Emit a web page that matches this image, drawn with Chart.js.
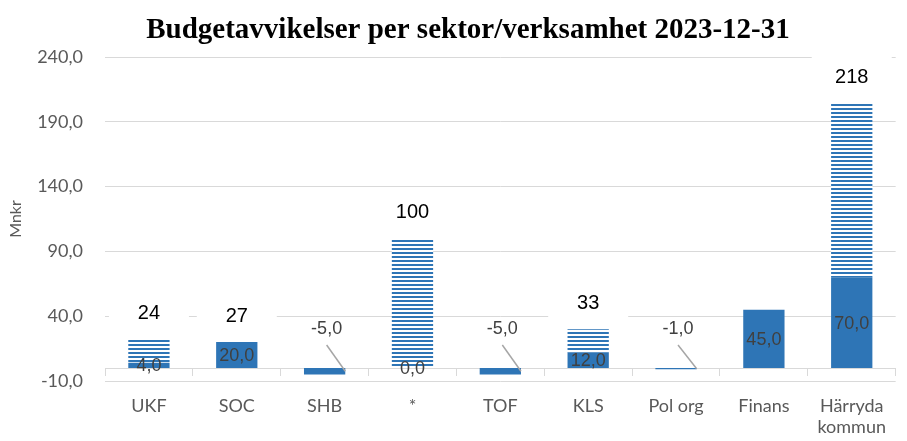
<!DOCTYPE html>
<html>
<head>
<meta charset="utf-8">
<script src="https://cdn.jsdelivr.net/npm/chart.js@4.4.0/dist/chart.umd.min.js"></script>
<style>
  html, body { margin: 0; padding: 0; background: #fff; }
  #wrap { width: 907px; height: 441px; }
</style>
</head>
<body>
<div id="wrap"><canvas id="budgetChart" width="907" height="441"></canvas></div>
<script>
const chartTitle = 'Budgetavvikelser per sektor/verksamhet 2023-12-31';
const categories = ['UKF', 'SOC', 'SHB', '*', 'TOF', 'KLS', 'Pol org', 'Finans', ['Härryda', 'kommun']];
// solid part of each bar, and the striped part stacked on top of it
const solidValues = [4, 20, -5, 0, -5, 12, -1, 45, 70];
const stripedValues = [18, 0, 0, 100, 0, 18, 0, 0, 134];
// totals written above the bars
const totalLabels = [24, 27, null, 100, null, 33, null, null, 218];
const yMin = -10, yMax = 240, yStep = 50;

const blue = '#2e75b6';

function fmt(v) {
    return v.toFixed(1).replace('.', ',');
}

function makeStripes() {
    const c = document.createElement('canvas');
    c.width = 4;
    c.height = 4;
    const p = c.getContext('2d');
    p.fillStyle = '#fff';
    p.fillRect(0, 0, 4, 4);
    p.fillStyle = blue;
    p.fillRect(0, 0, 4, 2);
    return p.createPattern(c, 'repeat');
}

const labelPlugin = {
    id: 'barLabels',
    afterDatasetsDraw(chart) {
        const ctx = chart.ctx;
        const solid = chart.getDatasetMeta(0).data;
        const striped = chart.getDatasetMeta(1).data;
        ctx.save();
        ctx.textAlign = 'center';
        ctx.textBaseline = 'middle';
        for (let i = 0; i < solidValues.length; i++) {
            const bar = solid[i];
            const v = solidValues[i];
            ctx.font = '18px "Liberation Sans", Arial, sans-serif';
            ctx.fillStyle = '#404040';
            if (v < 0) {
                // negative values get their label lifted up with a leader line
                const lx = bar.x + 2, ly = bar.base - 39;
                ctx.strokeStyle = '#a6a6a6';
                ctx.lineWidth = 1.5;
                ctx.beginPath();
                ctx.moveTo(lx, ly + 16);
                ctx.lineTo(bar.x + bar.width / 2, (bar.y + bar.base) / 2);
                ctx.stroke();
                ctx.fillText(fmt(v), lx, ly);
            } else {
                ctx.fillText(fmt(v), bar.x, (bar.y + bar.base) / 2 + 1);
            }
            if (totalLabels[i] !== null) {
                const top = Math.min(bar.y, bar.base, striped[i].y);
                const cy = top - 26;
                ctx.fillStyle = '#fff';
                ctx.fillRect(bar.x - 40, cy - 21, 80, 42);
                ctx.font = '20px "Liberation Sans", Arial, sans-serif';
                ctx.fillStyle = '#000';
                ctx.fillText(String(totalLabels[i]), bar.x, cy);
            }
        }
        ctx.textBaseline = 'alphabetic';
        ctx.font = 'bold 29px "Liberation Serif", "Times New Roman", serif';
        ctx.fillStyle = '#000';
        ctx.fillText(chartTitle, 468, 38);
        ctx.restore();
    }
};

const tickFont = { family: 'Lato, "Open Sans", sans-serif', size: 18, lineHeight: 1.15 };

new Chart(document.getElementById('budgetChart'), {
    type: 'bar',
    data: {
        labels: categories,
        datasets: [
            {
                label: 'Avvikelse',
                data: solidValues,
                backgroundColor: blue,
                barPercentage: 0.47,
                categoryPercentage: 1
            },
            {
                label: 'Total',
                data: stripedValues,
                backgroundColor: makeStripes(),
                barPercentage: 0.47,
                categoryPercentage: 1
            }
        ]
    },
    options: {
        responsive: false,
        animation: false,
        // x axis sits on the zero line, so room for its labels comes from the padding
        layout: { padding: { top: 57, right: 0, bottom: 60, left: 0 } },
        plugins: {
            legend: { display: false },
            title: { display: false },
            tooltip: { enabled: false }
        },
        scales: {
            x: {
                stacked: true,
                position: { y: 0 },
                grid: { drawOnChartArea: false, drawTicks: true, tickLength: 7, color: '#d9d9d9', offset: true },
                border: { display: true, color: '#d9d9d9' },
                ticks: { padding: 21, color: '#595959', font: tickFont, maxRotation: 0, autoSkip: false }
            },
            y: {
                stacked: true,
                min: yMin,
                max: yMax,
                ticks: {
                    stepSize: yStep,
                    padding: 22,
                    color: '#595959',
                    font: tickFont,
                    callback: v => fmt(v)
                },
                grid: { color: '#d9d9d9', drawTicks: false },
                border: { display: false },
                title: {
                    display: true,
                    text: 'Mnkr',
                    color: '#595959',
                    font: { family: 'Lato, "Open Sans", sans-serif', size: 16 },
                    padding: { top: 6, bottom: 0 }
                },
                afterFit: s => { s.width = 105; }
            }
        }
    },
    plugins: [labelPlugin]
});
</script>
</body>
</html>
